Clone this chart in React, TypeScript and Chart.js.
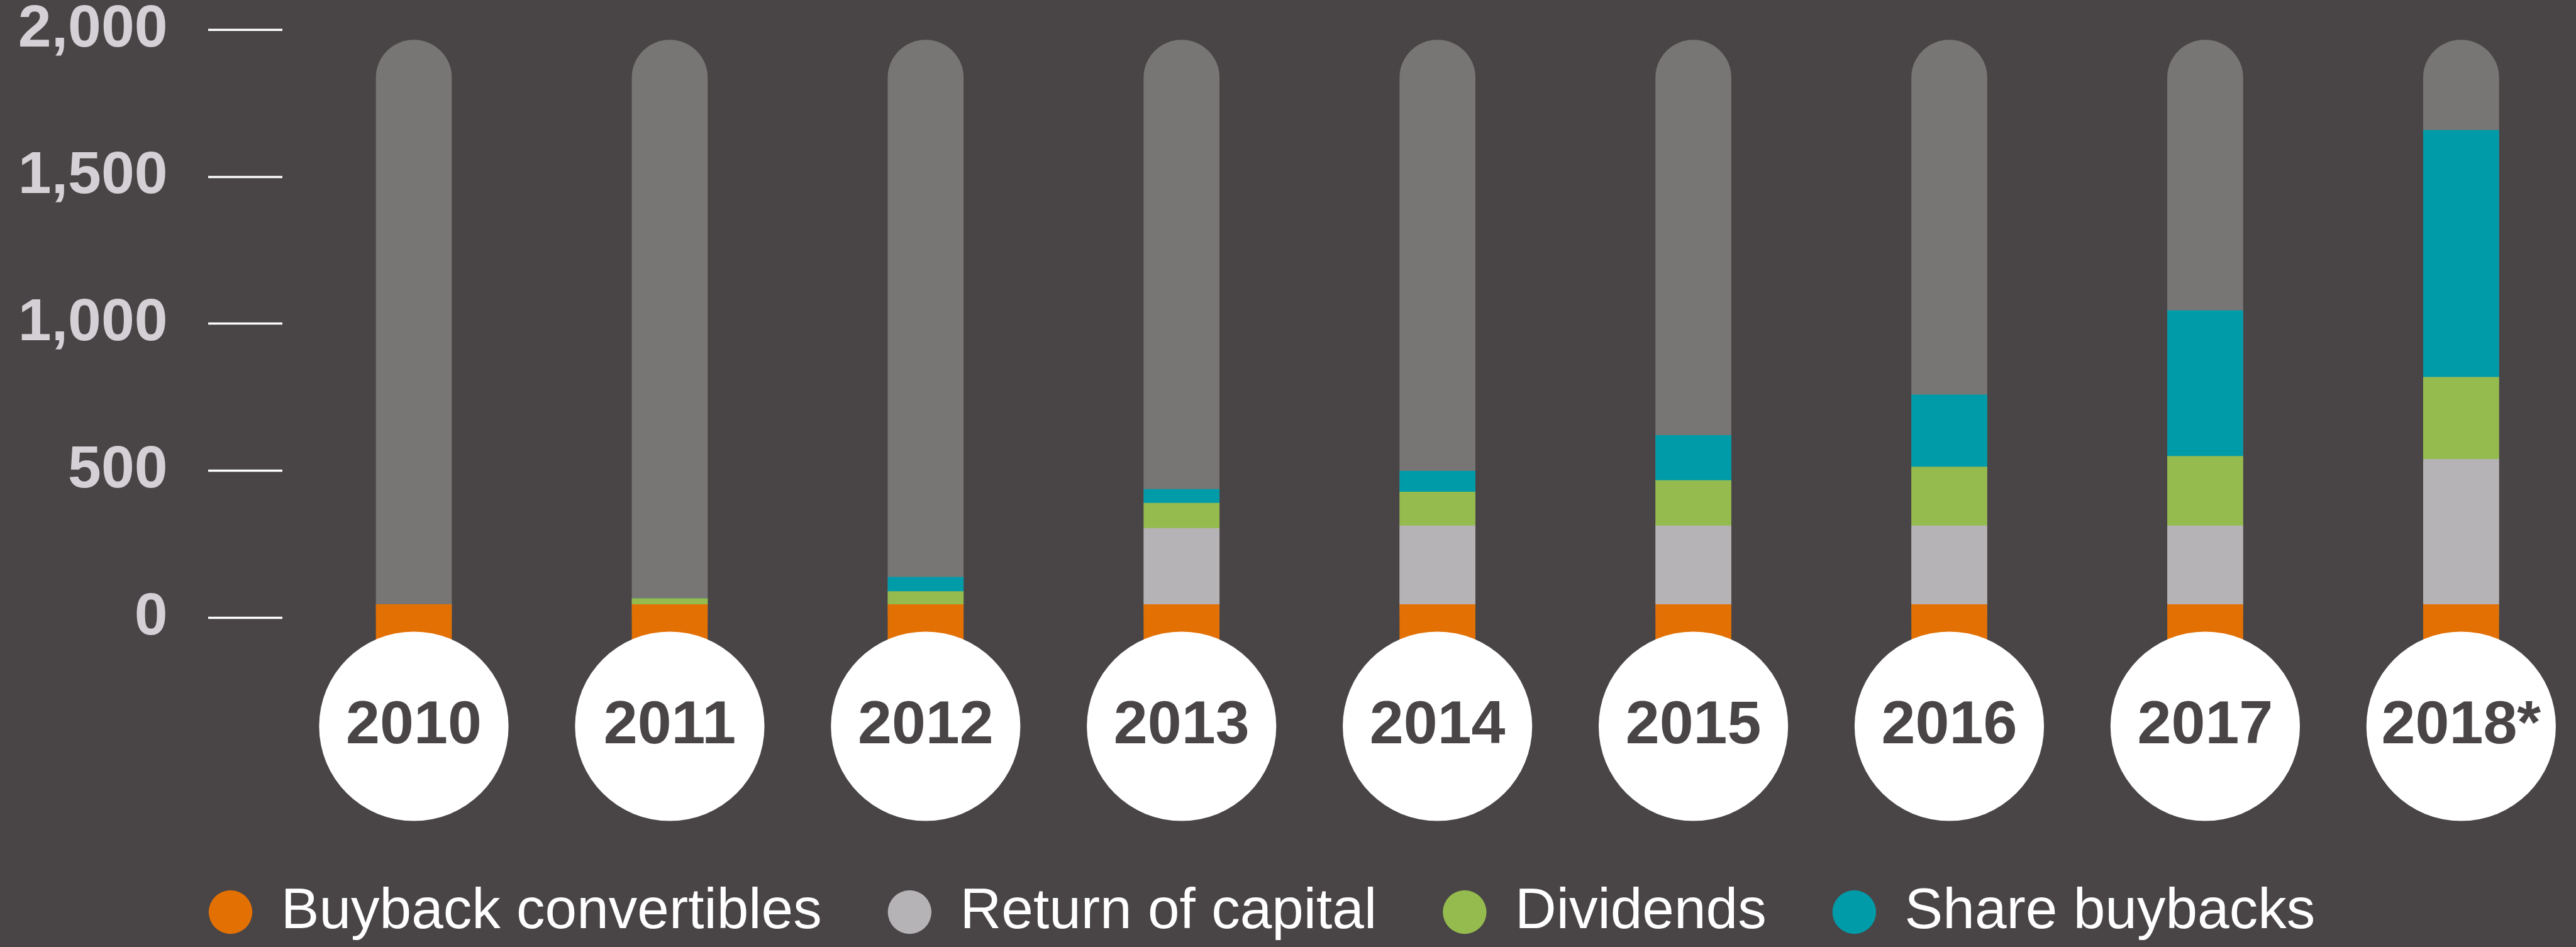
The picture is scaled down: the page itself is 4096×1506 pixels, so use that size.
import React, { useEffect, useRef } from "react";
import { Chart, registerables } from "chart.js";

Chart.register(...registerables);

// ---- data ----
const categories = ["2010", "2011", "2012", "2013", "2014", "2015", "2016", "2017", "2018*"];
const buybackConvertibles = [45, 45, 45, 45, 45, 45, 45, 45, 45];
const returnOfCapital = [0, 0, 0, 259, 268, 268, 268, 268, 494];
const dividends = [0, 20, 44, 86, 115, 154, 200, 236, 279];
const shareBuybacks = [0, 0, 49, 47, 71, 153, 245, 496, 840];
const trackTop = [1965, 1965, 1965, 1965, 1965, 1965, 1965, 1965, 1965];
const yTicks = [0, 500, 1000, 1500, 2000];
const seriesLabels = ["Buyback convertibles", "Return of capital", "Dividends", "Share buybacks"];

// ---- styles ----
const BG = "#494546";
const TRACK = "#777674";
const COLORS = ["#e37003", "#b5b3b5", "#95bb4e", "#009ba9"];

const bgPlugin = {
  id: "bg",
  beforeDraw(chart: any) {
    const ctx = chart.ctx;
    ctx.save();
    ctx.fillStyle = BG;
    ctx.fillRect(0, 0, chart.width, chart.height);
    ctx.restore();
  },
};

const circlePlugin = {
  id: "yearCircles",
  afterDatasetsDraw(chart: any) {
    const ctx = chart.ctx;
    const xs = chart.scales.x;
    const cy = (xs.top + xs.bottom) / 2;
    ctx.save();
    ctx.fillStyle = "#ffffff";
    categories.forEach((_, i) => {
      const cx = xs.getPixelForValue(i);
      ctx.beginPath();
      ctx.arc(cx, cy, 150.6, 0, Math.PI * 2);
      ctx.fill();
    });
    ctx.restore();
  },
};

export default function App() {
  const ref = useRef<HTMLCanvasElement>(null);
  useEffect(() => {
    document.body.style.margin = "0";
    document.body.style.overflow = "hidden";
    document.body.style.background = BG;
    Chart.defaults.font.family = "'Liberation Sans', Arial, Helvetica, sans-serif";
    const toPoints = (arr: number[]) => arr.map((y, i) => ({ x: i, y }));
    const chart = new Chart(ref.current as HTMLCanvasElement, {
      type: "bar",
      data: {
        datasets: [
          { label: seriesLabels[0], data: toPoints(buybackConvertibles), backgroundColor: COLORS[0], base: -100 } as any,
          { label: seriesLabels[1], data: toPoints(returnOfCapital), backgroundColor: COLORS[1] },
          { label: seriesLabels[2], data: toPoints(dividends), backgroundColor: COLORS[2] },
          { label: seriesLabels[3], data: toPoints(shareBuybacks), backgroundColor: COLORS[3] },
          { label: "track", data: toPoints(trackTop), backgroundColor: TRACK, stack: "track", borderRadius: 60 } as any,
        ],
      },
      options: {
        responsive: false,
        animation: false,
        layout: { padding: { left: 0, top: 0, right: 83, bottom: 0 } },
        datasets: { bar: { grouped: false, barThickness: 120, borderWidth: 0, clip: false } as any },
        scales: {
          x: {
            type: "linear",
            offset: false,
            min: -0.5149,
            max: 8.245,
            grid: { display: false, drawTicks: false, offset: false },
            border: { display: false },
            afterBuildTicks: (s: any) => {
              s.ticks = categories.map((_, i) => ({ value: i }));
            },
            afterFit: (s: any) => {
              s.paddingLeft = 0;
              s.paddingRight = 0;
              s.height = 290;
            },
            ticks: {
              z: 1,
              padding: 0,
              autoSkip: false,
              maxRotation: 0,
              minRotation: 0,
              color: BG,
              font: { size: 97, weight: "bold", lineHeight: 290 / 97 },
              callback: (v: any) => categories[v] ?? "",
            },
          } as any,
          y: {
            stacked: true,
            min: -59.25,
            max: 2000,
            afterBuildTicks: (s: any) => {
              s.ticks = yTicks.map((v) => ({ value: v }));
            },
            afterFit: (s: any) => {
              s.width = 448.5;
              s.paddingTop = 47.3;
              s.paddingBottom = 0;
            },
            grid: {
              display: true,
              drawOnChartArea: false,
              drawTicks: true,
              tickLength: 117.5,
              tickWidth: 3.5,
              tickColor: "#ffffff",
              color: "#ffffff",
            },
            border: { display: false },
            ticks: {
              padding: 64.4,
              color: "#d5d0d5",
              font: { size: 95, weight: "bold", lineHeight: 1 },
              callback: (v: any) => Number(v).toLocaleString("en-US"),
            },
          } as any,
        },
        plugins: {
          tooltip: { enabled: false },
          legend: {
            position: "bottom",
            align: "center",
            labels: {
              usePointStyle: true,
              pointStyle: "circle",
              boxHeight: 49,
              pointStyleWidth: 69.4,
              padding: 105,
              color: "#ffffff",
              font: { size: 91, lineHeight: 1 },
              filter: (item: any) => item.datasetIndex < 4,
            },
          } as any,
        },
      },
      plugins: [bgPlugin, circlePlugin],
    });
    return () => chart.destroy();
  }, []);

  return (
    <div style={{ width: 4096, height: 1506, background: BG }}>
      <canvas ref={ref} width={4096} height={1506} style={{ display: "block" }} />
    </div>
  );
}
